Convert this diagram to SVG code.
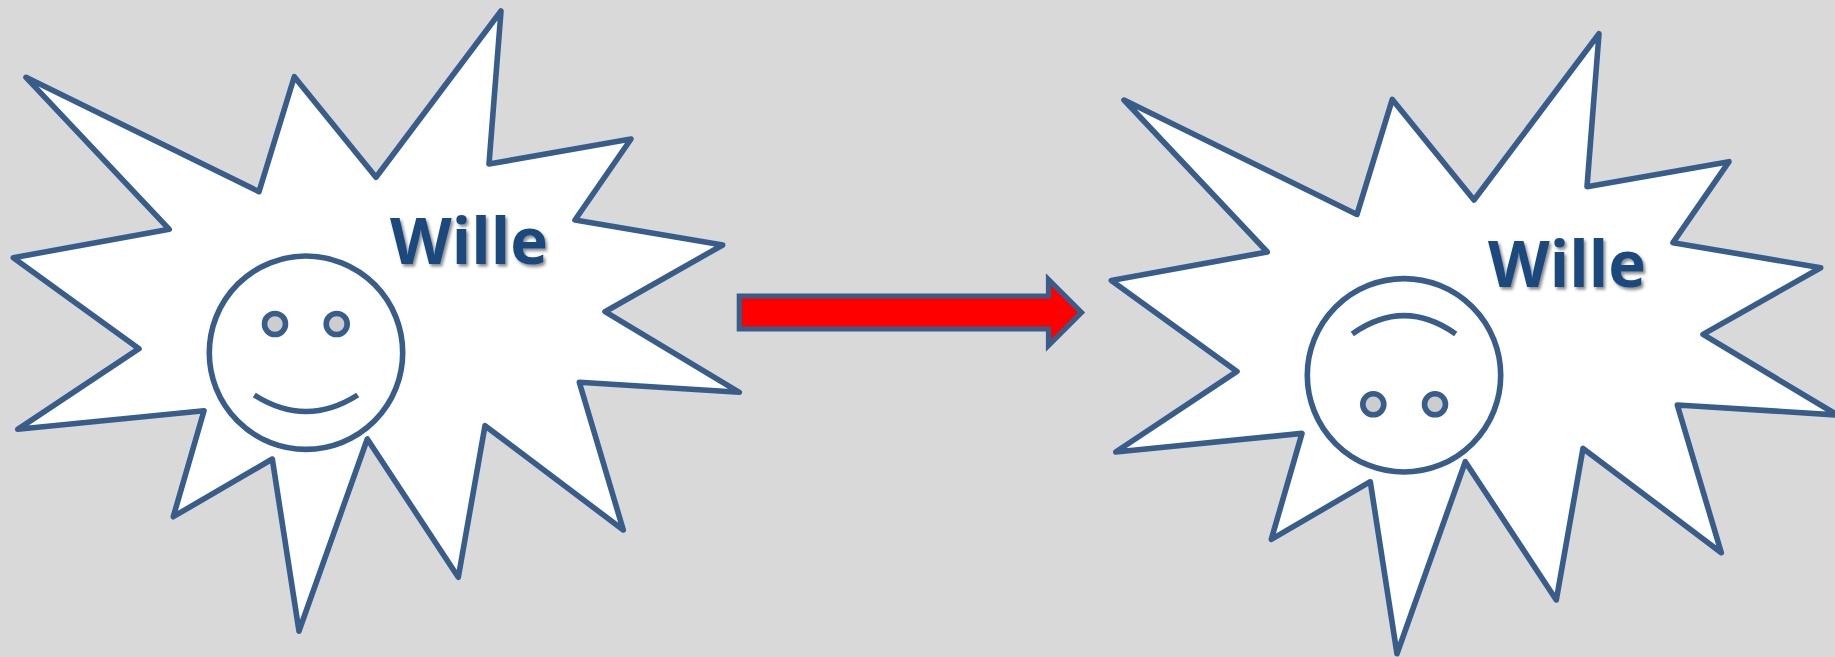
<svg xmlns="http://www.w3.org/2000/svg" xmlns:xlink="http://www.w3.org/1999/xlink" width="1835" height="657" viewBox="0 0 1835 657">
<style>
.o{stroke:#385d8a;stroke-width:5.6;stroke-linejoin:round;fill:none}
.star{fill:#fff}
.eye{fill:#cdcdcd}
.t{font-family:"Open Sans","Noto Sans",sans-serif;font-weight:700;font-size:65px;fill:#1f497d;filter:url(#sh)}
</style>
<defs>
<filter id="sh" x="-10%" y="-10%" width="125%" height="130%"><feDropShadow dx="2" dy="2.5" stdDeviation="1.5" flood-color="#000" flood-opacity=".45"/></filter>
<polygon id="s" class="o star" points="26,77.3 259,191.7 294.3,76.7 376,177.3 501,11 489,164 631,139 575,220 722.7,245 605,311.7 739.3,392.3 579.3,382.3 623.3,530 485,425.7 458.3,577.3 367.3,439 299,631 272.3,459 173.3,516.7 204,410.7 17.7,429.3 139,348.7 13.3,257.7 169.3,229.3"/>
</defs>
<rect width="1835" height="657" fill="#d9d9d9"/>
<g id="left-star">
<use xlink:href="#s" href="#s"/>
<circle class="o" cx="306" cy="352.7" r="96.7"/>
<circle class="o eye" cx="275" cy="324" r="10.5"/>
<circle class="o eye" cx="336.7" cy="324" r="10.5"/>
<path class="o" d="M254.3 395Q306 428 357.7 395"/>
<text class="t" x="390" y="264" textLength="158" lengthAdjust="spacingAndGlyphs">Wille</text>
</g>
<g id="right-star">
<use xlink:href="#s" href="#s" transform="translate(1098 22.7)"/>
<circle class="o" cx="1404" cy="375.3" r="96.7"/>
<circle class="o eye" cx="1373.3" cy="404.3" r="10.5"/>
<circle class="o eye" cx="1435" cy="404.3" r="10.5"/>
<path class="o" d="M1352.3 334Q1404 297.4 1455.7 334"/>
<text class="t" x="1488" y="287" textLength="158" lengthAdjust="spacingAndGlyphs">Wille</text>
</g>
<g id="connectors">
<path d="M739.3 296H1048.5V279.5L1081.5 312.5L1048.5 345.5V329H739.3Z" fill="#f00" stroke="#385d8a" stroke-width="5.2" stroke-linejoin="miter"/>
</g>
</svg>
